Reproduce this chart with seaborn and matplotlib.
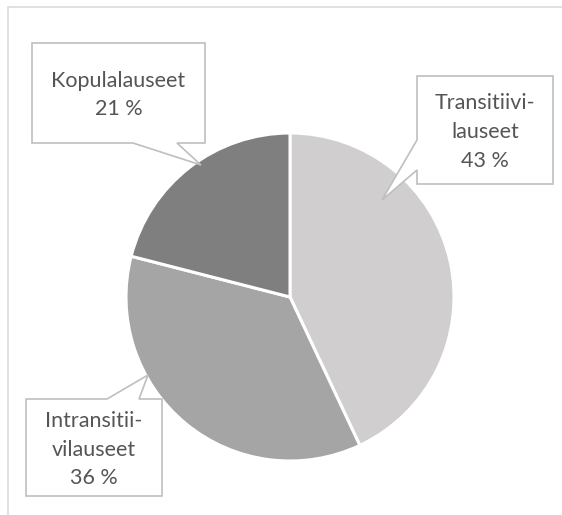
import matplotlib
matplotlib.use("Agg")
import matplotlib.pyplot as plt
from matplotlib.patches import Polygon
import seaborn as sns

# data
labels = ["Transitiivi-\nlauseet", "Intransitii-\nvilauseet", "Kopulalauseet"]
shares = [43, 36, 21]
slice_colors = ["#d0cece", "#a5a5a5", "#7f7f7f"]

# callout layout in pixels: box (x0, y0, x1, y1), pointer base on edge, tip
callouts = [
    dict(box=(417, 76, 553, 184), edge="left", base=(140, 170), tip=(382, 200)),
    dict(box=(26, 399, 162, 496), edge="top", base=(107, 139), tip=(148, 375)),
    dict(box=(32, 43, 205, 143), edge="bottom", base=(133, 177), tip=(201, 165)),
]

sns.set_theme(style="white")
plt.rcParams["font.family"] = ["Lato", "DejaVu Sans"]

W, H = 562, 515
fig = plt.figure(figsize=(W / 100, H / 100), dpi=100)
fig.patch.set_facecolor("white")

# pie axis
cx, cy, r = 290, 297, 164
ax = fig.add_axes([(cx - r) / W, (H - cy - r) / H, 2 * r / W, 2 * r / H])
ax.pie(shares, colors=slice_colors, startangle=90, counterclock=False,
       radius=1, wedgeprops=dict(edgecolor="white", linewidth=2.2))
ax.set_xlim(-1, 1)
ax.set_ylim(-1, 1)
ax.axis("off")

# overlay axis in pixel coordinates
ov = fig.add_axes([0, 0, 1, 1], zorder=5)
ov.set_xlim(0, W)
ov.set_ylim(H, 0)
ov.axis("off")
ov.patch.set_alpha(0)

# chart frame (clipped at right and bottom)
ov.plot([7.5, 7.5, W + 5], [H + 5, 6.5, 6.5], color="#d9d9d9", lw=1.1,
        solid_joinstyle="miter")


def callout_poly(box, edge, base, tip):
    x0, y0, x1, y1 = box
    b0, b1 = base
    if edge == "left":
        return [(x0, y0), (x1, y0), (x1, y1), (x0, y1), (x0, b1), tip, (x0, b0)]
    if edge == "top":
        return [(x0, y0), (b0, y0), tip, (b1, y0), (x1, y0), (x1, y1), (x0, y1)]
    return [(x0, y0), (x1, y0), (x1, y1), (b1, y1), tip, (b0, y1), (x0, y1)]


for lab, val, c in zip(labels, shares, callouts):
    poly = Polygon(callout_poly(**c), closed=True, facecolor="white",
                   edgecolor="#bfbfbf", lw=1.2, joinstyle="miter")
    ov.add_patch(poly)
    x0, y0, x1, y1 = c["box"]
    ov.text((x0 + x1) / 2, (y0 + y1) / 2 + 2, f"{lab}\n{val} %", ha="center",
            va="center", fontsize=15.5, color="#555555", linespacing=1.55)

fig.savefig("out.png", dpi=100, facecolor="white")
